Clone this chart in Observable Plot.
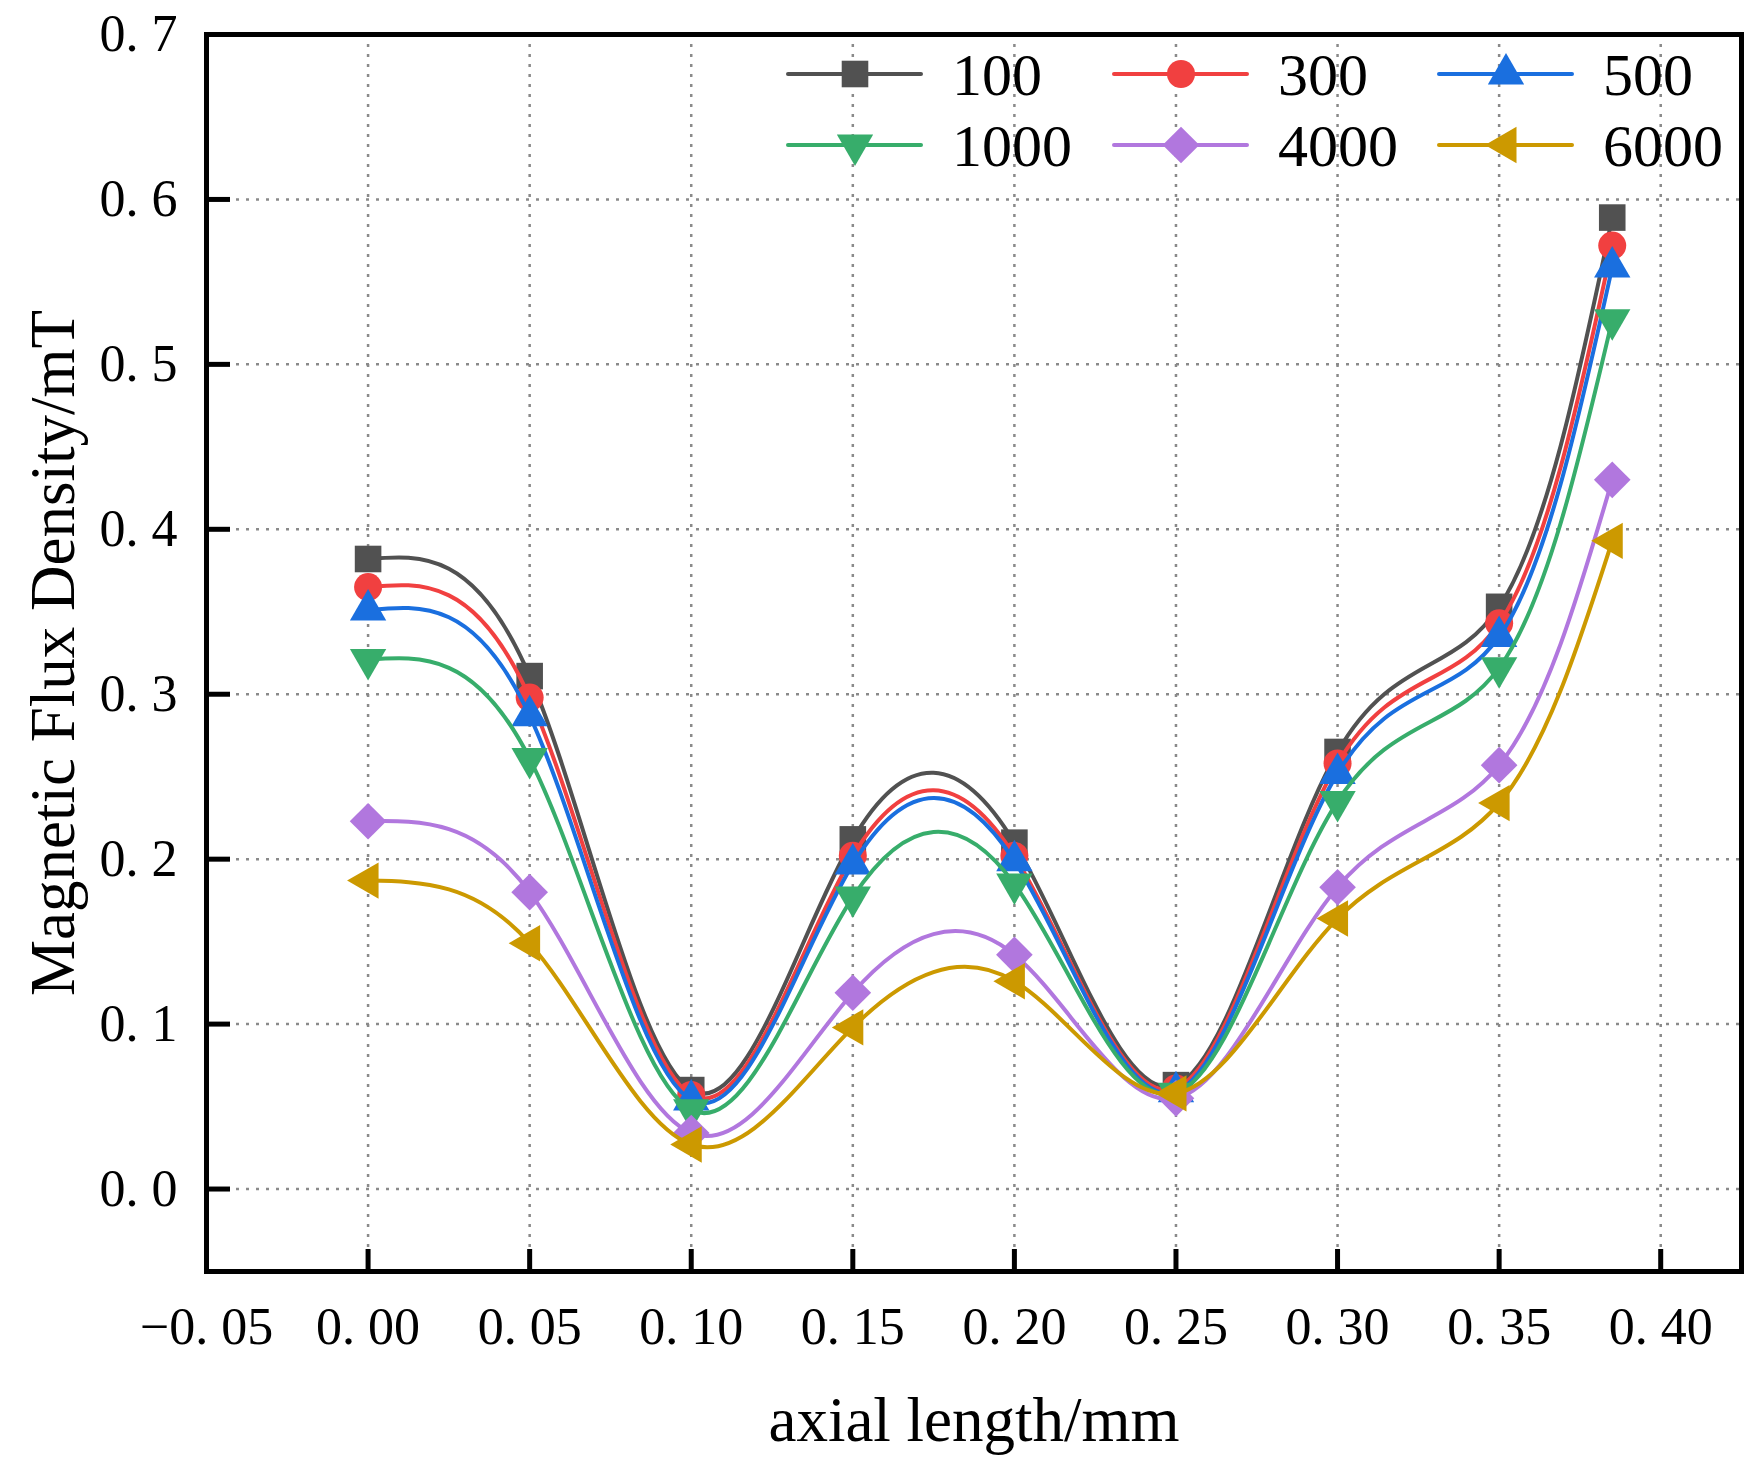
<!DOCTYPE html>
<html><head><meta charset="utf-8">
<script src="https://cdn.jsdelivr.net/npm/d3@7"></script>
<script src="https://cdn.jsdelivr.net/npm/@observablehq/plot@0.6"></script>
<style>body{margin:0;background:#fff}#chart{width:1763px;height:1465px}</style>
</head><body><div id="chart"></div>
<script>
// ---- data ----
const xValues = [0, 0.05, 0.10, 0.15, 0.20, 0.25, 0.30, 0.35, 0.385];
const seriesNames = ["100", "300", "500", "1000", "4000", "6000"];
const v100  = [0.382, 0.311, 0.060, 0.212, 0.210, 0.063, 0.265, 0.353, 0.589];
const v300  = [0.365, 0.298, 0.057, 0.202, 0.202, 0.061, 0.258, 0.343, 0.572];
const v500  = [0.351, 0.287, 0.054, 0.197, 0.199, 0.059, 0.252, 0.335, 0.559];
const v1000 = [0.321, 0.261, 0.048, 0.177, 0.185, 0.058, 0.235, 0.316, 0.527];
const v4000 = [0.223, 0.180, 0.034, 0.119, 0.142, 0.055, 0.183, 0.257, 0.430];
const v6000 = [0.187, 0.149, 0.027, 0.098, 0.126, 0.058, 0.164, 0.234, 0.393];
const xTicks = [-0.05, 0, 0.05, 0.10, 0.15, 0.20, 0.25, 0.30, 0.35, 0.40];
const yTicks = [0, 0.1, 0.2, 0.3, 0.4, 0.5, 0.6, 0.7];
const xTitle = "axial length/mm";
const yTitle = "Magnetic Flux Density/mT";

// ---- layout / styling ----
const W = 1763, H = 1465, ML = 206, MR = 22, MT = 34, MB = 194;
const frameW = W - ML - MR, frameH = H - MT - MB;
const colors = ["#515151", "#F14040", "#1A6FDF", "#37AD6B", "#B177DE", "#CC9900"];
const triDown = {draw(ctx, size) {
  const y = Math.sqrt(size / (Math.sqrt(3) * 3));
  ctx.moveTo(0, 2 * y); ctx.lineTo(-Math.sqrt(3) * y, -y); ctx.lineTo(Math.sqrt(3) * y, -y); ctx.closePath();
}};
const triLeft = {draw(ctx, size) {
  const y = Math.sqrt(size / (Math.sqrt(3) * 3));
  ctx.moveTo(-2 * y, 0); ctx.lineTo(y, -Math.sqrt(3) * y); ctx.lineTo(y, Math.sqrt(3) * y); ctx.closePath();
}};
const symbols = ["square", "circle", "triangle", triDown, "diamond2", triLeft];
const radii = [15, 14, 13.5, 13.5, 16.5, 13.5];
const allValues = [v100, v300, v500, v1000, v4000, v6000];

const seriesData = seriesNames.map((name, i) => xValues.map((x, j) => ({series: name, x, y: allValues[i][j]})));

const fmtX = d => d3.format(".2f")(d).replace(".", ". ");
const fmtY = d => d3.format(".1f")(d).replace(".", ". ");
const gridStyle = {stroke: "#8a8a8a", strokeOpacity: 1, strokeWidth: 2.5, strokeDasharray: "3,7"};

const seriesMarks = seriesData.flatMap((data, i) => [
  Plot.line(data, {x: "x", y: "y", stroke: colors[i], strokeWidth: 4, curve: "natural"}),
  Plot.dot(data, {x: "x", y: "y", symbol: symbols[i], r: radii[i], fill: colors[i], stroke: "none"})
]);

const plot = Plot.plot({
  width: W, height: H,
  marginLeft: ML, marginRight: MR, marginTop: MT, marginBottom: MB,
  style: {fontFamily: "'Liberation Serif', 'Times New Roman', serif", fontSize: "52px", color: "#000", background: "#fff", overflow: "visible"},
  x: {domain: [-0.05, 0.425]},
  y: {domain: [-0.05, 0.7]},
  marks: [
    Plot.gridX(xTicks.filter(t => t > -0.04), gridStyle),
    Plot.gridY(yTicks.filter(t => t < 0.69), gridStyle),
    ...seriesMarks,
    // inward tick marks: rules across the frame, inset so only 22–24 px remain
    Plot.ruleX(xTicks, {x: d => d, insetTop: frameH - 22, stroke: "#000", strokeWidth: 5}),
    Plot.ruleY(yTicks, {y: d => d, insetRight: frameW - 24, stroke: "#000", strokeWidth: 5}),
    Plot.axisX({ticks: xTicks, tickSize: 0, tickPadding: 36, tickFormat: fmtX, label: null, fontSize: 52}),
    Plot.axisY({ticks: yTicks, tickSize: 0, tickPadding: 29, tickFormat: fmtY, label: null, fontSize: 52}),
    Plot.frame({stroke: "#000", strokeWidth: 5}),
    Plot.text([xTitle], {frameAnchor: "bottom", dy: 149, lineAnchor: "middle", textAnchor: "middle", fontSize: 63, text: d => d}),
    Plot.text([yTitle], {frameAnchor: "left", dx: -153, rotate: -90, lineAnchor: "middle", textAnchor: "middle", fontSize: 63, text: d => d})
  ]
});

const svg = d3.select(plot);

// ---- legend (inside the frame, top right) ----
const lg = svg.append("g").attr("class", "legend").attr("text-anchor", "start");
const colX = [788, 1114, 1439];
const rowY = [74, 145];
seriesNames.forEach((name, i) => {
  const cx = colX[i % 3], cy = rowY[Math.floor(i / 3)];
  lg.append("line").attr("x1", cx).attr("x2", cx + 133).attr("y1", cy).attr("y2", cy)
    .attr("stroke", colors[i]).attr("stroke-width", 4).attr("stroke-linecap", "round");
  const sym = typeof symbols[i] === "string"
    ? {square: d3.symbolSquare, circle: d3.symbolCircle, triangle: d3.symbolTriangle, diamond2: d3.symbolDiamond2}[symbols[i]]
    : symbols[i];
  lg.append("path").attr("transform", `translate(${cx + 67},${cy})`)
    .attr("d", d3.symbol(sym, Math.PI * radii[i] * radii[i])()).attr("fill", colors[i]);
  lg.append("text").attr("x", cx + 164).attr("y", cy + 21).attr("text-anchor", "start")
    .attr("font-size", 60).attr("font-family", "'Liberation Serif', serif").attr("fill", "#000").text(name);
});

document.getElementById("chart").appendChild(plot);
</script>
</body></html>
